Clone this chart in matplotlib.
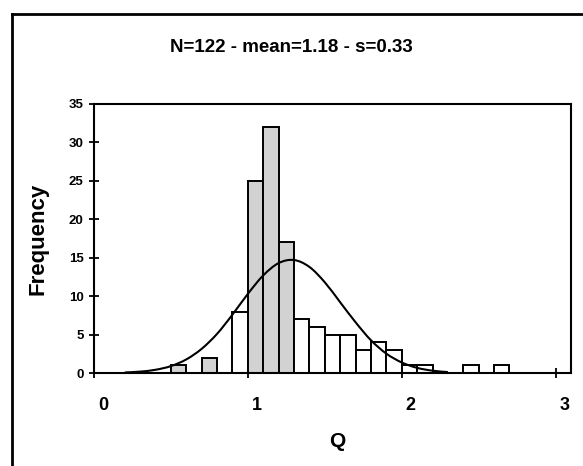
import matplotlib
matplotlib.use('Agg')
import matplotlib.pyplot as plt
import matplotlib.transforms as mtransforms
from matplotlib.lines import Line2D
from matplotlib.path import Path
from matplotlib.patches import PathPatch

plt.rcParams['font.family'] = ['Liberation Sans', 'DejaVu Sans']
plt.rcParams['font.weight'] = 'bold'

# histogram of Q (bin left edges, width 0.1)
bin_left = [0.5, 0.6, 0.7, 0.8, 0.9, 1.0, 1.1, 1.2, 1.3, 1.4, 1.5,
            1.6, 1.7, 1.8, 1.9, 2.0, 2.1, 2.2, 2.3, 2.4, 2.5, 2.6]
counts = [1, 0, 2, 0, 8, 25, 32, 17, 7, 6, 5,
          5, 3, 4, 3, 1, 1, 0, 0, 1, 0, 1]
shaded = [True, False, True, False, False, True, True, True, False, False, False,
          False, False, False, False, False, False, False, False, False, False, False]

# fitted normal curve
curve_x = [0.2, 0.3, 0.4, 0.5, 0.6, 0.7, 0.8, 0.9, 1.0, 1.1, 1.2, 1.3,
           1.4, 1.5, 1.6, 1.7, 1.8, 1.9, 2.0, 2.1, 2.2, 2.3]
curve_y = [0.07, 0.18, 0.42, 0.9, 1.77, 3.15, 5.1, 7.6, 10.3, 12.7, 14.3, 14.7,
           13.8, 11.8, 9.2, 6.6, 4.26, 2.52, 1.37, 0.67, 0.3, 0.12]

title = 'N=122 - mean=1.18 - s=0.33'
x_ticks = [0, 1, 2, 3]
y_ticks = [0, 5, 10, 15, 20, 25, 30, 35]


def smooth_path(xs, ys):
    # excel-style smoothed line: bezier segments through the points
    pts = list(zip(xs, ys))
    verts = [pts[0]]
    codes = [Path.MOVETO]
    n = len(pts)
    for i in range(n - 1):
        p0 = pts[i - 1] if i > 0 else pts[i]
        p1 = pts[i]
        p2 = pts[i + 1]
        p3 = pts[i + 2] if i + 2 < n else pts[i + 1]
        c1 = (p1[0] + (p2[0] - p0[0]) / 6, p1[1] + (p2[1] - p0[1]) / 6)
        c2 = (p2[0] - (p3[0] - p1[0]) / 6, p2[1] - (p3[1] - p1[1]) / 6)
        verts += [c1, c2, p2]
        codes += [Path.CURVE4] * 3
    return Path(verts, codes)


fig = plt.figure(figsize=(5.83, 4.66), dpi=100)
ax = fig.add_axes([94 / 583, 1 - 373 / 466, 477 / 583, 269 / 466])

colors = ['#d2d2d2' if s else 'white' for s in shaded]
ax.bar(bin_left, counts, width=0.1, align='edge', color=colors,
       edgecolor='black', linewidth=1.4, zorder=2)
ax.add_patch(PathPatch(smooth_path(curve_x, curve_y), facecolor='none',
                       edgecolor='black', linewidth=1.5, zorder=3))

ax.set_xlim(0, 3.1)
ax.set_ylim(0, 35)
ax.set_xticks(x_ticks)
ax.set_yticks(y_ticks)
for sp in ax.spines.values():
    sp.set_linewidth(1.5)
ax.tick_params(direction='inout', length=7, width=1.3)
ax.tick_params(axis='x', labelsize=13, pad=14)
ax.tick_params(axis='y', labelsize=9.5, pad=4)

offset = mtransforms.ScaledTranslation(9 / 100, 0, fig.dpi_scale_trans)
for lab in ax.get_xticklabels():
    lab.set_transform(lab.get_transform() + offset)

ax.text(0.51, -0.255, 'Q', transform=ax.transAxes, fontsize=15,
        fontweight='bold', ha='center', va='center')
ax.text(-0.118, 0.5, 'Frequency', transform=ax.transAxes, fontsize=16,
        fontweight='bold', rotation=90, ha='center', va='center')

fig.text(0.5, 1 - 47 / 466, title, fontsize=13.5, fontweight='bold',
         ha='center', va='center')

# outer chart border (left and top edges visible)
fig.add_artist(Line2D([12 / 583, 12 / 583], [0, 1 - 14 / 466],
                      transform=fig.transFigure, color='black', linewidth=2))
fig.add_artist(Line2D([12 / 583, 1], [1 - 14 / 466, 1 - 14 / 466],
                      transform=fig.transFigure, color='black', linewidth=2))

fig.savefig('out.png', dpi=100)
